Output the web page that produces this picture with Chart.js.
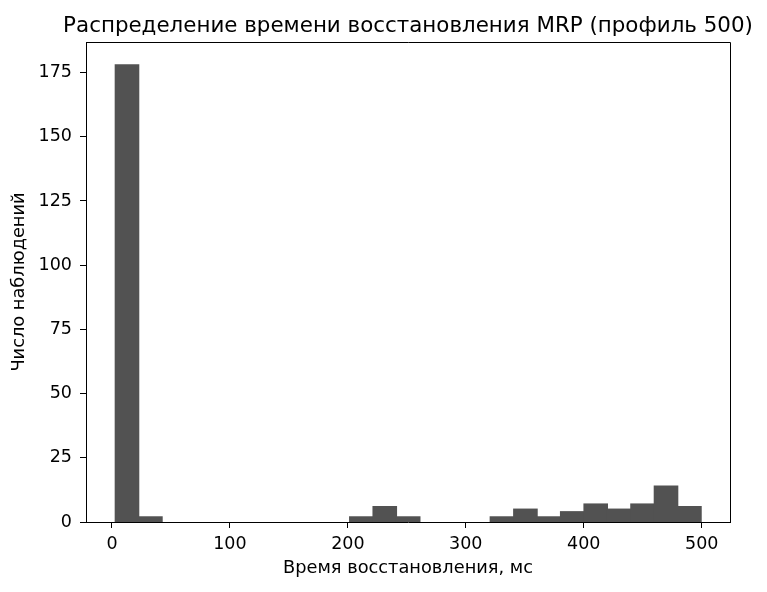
<!DOCTYPE html>
<html>
<head>
<meta charset="utf-8">
<script src="https://cdn.jsdelivr.net/npm/chart.js@4/dist/chart.umd.min.js"></script>
<style>
  html, body { margin: 0; padding: 0; background: #fff; }
  #wrap { width: 767px; height: 592px; }
</style>
</head>
<body>
<div id="wrap"><canvas id="histChart"></canvas></div>
<script>
// histogram bin edges (ms) and counts per bin
const binEdges = [2.8, 22.7, 42.5, 62.4, 82.3, 102.2, 122.0, 141.9, 161.8, 181.6, 201.5,
    221.4, 241.2, 261.1, 281.0, 300.8, 320.7, 340.6, 360.5, 380.3, 400.2,
    420.1, 439.9, 459.8, 479.7, 499.5];
const binCounts = [178, 2, 0, 0, 0, 0, 0, 0, 0, 0, 2, 6, 2, 0, 0, 0, 2, 5, 2, 4, 7, 5, 7, 14, 6];
const xTicks = [0, 100, 200, 300, 400, 500];
const yTicks = [0, 25, 50, 75, 100, 125, 150, 175];

const titleText = 'Распределение времени восстановления MRP (профиль 500)';
const xLabel = 'Время восстановления, мс';
const yLabel = 'Число наблюдений';

const FONT = 'DejaVu Sans';

// matplotlib-style frame: top + right spines, title centred over the axes
const framePlugin = {
    id: 'frame',
    afterDraw(chart) {
        const { ctx, chartArea: a } = chart;
        ctx.save();
        ctx.strokeStyle = '#000';
        ctx.lineWidth = 1;
        ctx.beginPath();
        ctx.moveTo(a.left, a.top + 0.5);
        ctx.lineTo(a.right + 0.5, a.top + 0.5);
        ctx.lineTo(a.right + 0.5, a.bottom);
        ctx.stroke();

        ctx.fillStyle = '#000';
        ctx.font = `21.4px "${FONT}"`;
        ctx.textAlign = 'center';
        ctx.textBaseline = 'alphabetic';
        ctx.fillText(titleText, (a.left + a.right) / 2, 32);
        ctx.restore();
    }
};

const points = binCounts.map((c, i) => ({ x: (binEdges[i] + binEdges[i + 1]) / 2, y: c }));

new Chart(document.getElementById('histChart'), {
    type: 'bar',
    data: {
        datasets: [{
            data: points,
            backgroundColor: '#525252',
            borderWidth: 0,
            // close the hairline seams between adjacent bins, but keep empty bins invisible
            inflateAmount: ctx => (ctx.raw && ctx.raw.y > 0 ? 0.6 : 0),
            barPercentage: 1,
            categoryPercentage: 1
        }]
    },
    options: {
        responsive: true,
        maintainAspectRatio: false,
        animation: false,
        layout: { padding: { left: 0, right: 37, top: 42, bottom: 0 } },
        plugins: {
            legend: { display: false },
            tooltip: { enabled: false },
            title: { display: false }
        },
        scales: {
            x: {
                type: 'linear',
                min: -22,
                max: 524,
                offset: false,
                afterBuildTicks: s => { s.ticks = xTicks.map(v => ({ value: v })); },
                afterFit: s => { s.height = 70; },
                ticks: { color: '#000', font: { family: FONT, size: 17.5 }, padding: 6, maxRotation: 0 },
                grid: { drawOnChartArea: false, drawTicks: true, tickLength: 6, color: '#000', offset: false },
                border: { display: true, color: '#000', width: 1 },
                title: {
                    display: true, text: xLabel, color: '#000',
                    font: { family: FONT, size: 17.8 },
                    padding: { top: 4, bottom: 13 }
                }
            },
            y: {
                min: 0,
                max: 186.9,
                afterBuildTicks: s => { s.ticks = yTicks.map(v => ({ value: v })); },
                afterFit: s => { s.width = 86; },
                ticks: { color: '#000', font: { family: FONT, size: 17.5 }, padding: 8 },
                grid: { drawOnChartArea: false, drawTicks: true, tickLength: 6, color: '#000' },
                border: { display: true, color: '#000', width: 1 },
                title: {
                    display: true, text: yLabel, color: '#000',
                    font: { family: FONT, size: 17.8 },
                    padding: { top: 9, bottom: 4 }
                }
            }
        }
    },
    plugins: [framePlugin]
});
</script>
</body>
</html>
